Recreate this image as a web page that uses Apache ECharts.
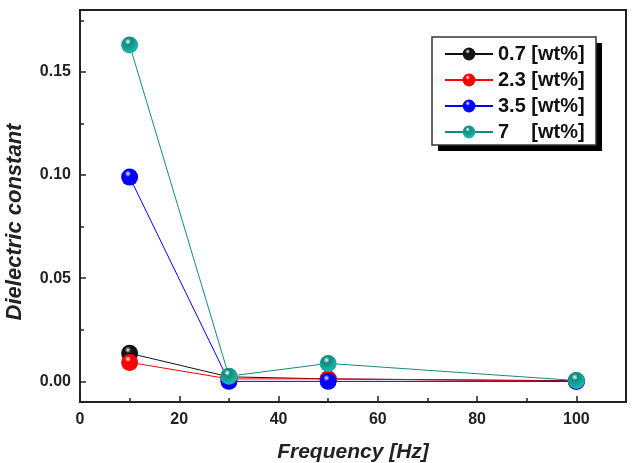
<!DOCTYPE html>
<html>
<head>
<meta charset="utf-8">
<script src="https://cdn.jsdelivr.net/npm/echarts@6/dist/echarts.min.js"></script>
<style>
  html, body { margin: 0; padding: 0; background: #fff; }
  #chart { width: 632px; height: 463px; }
</style>
</head>
<body>
<div id="chart"></div>
<script>
var freq = [10, 30, 50, 100];
var s07 = [0.0136, 0.0022, 0.0012, 0.0003];
var s23 = [0.0092, 0.0012, 0.0012, 0.0001];
var s35 = [0.099, 0.0, 0.0, 0.0];
var s70 = [0.163, 0.0025, 0.0087, 0.0004];
var names = ["0.7 [wt%]", "2.3 [wt%]", "3.5 [wt%]", "7    [wt%]"];
var colors = ["#111111", "#ff0000", "#0000ff", "#138a80"];
var xLabels = [0, 20, 40, 60, 80, 100];
var xMinor = [10, 30, 50, 70, 90];
var yLabels = [0, 0.05, 0.1, 0.15];
var yMinor = [0.025, 0.075, 0.125, 0.175];

var font = "Arial, 'Liberation Sans', sans-serif";

function pairs(ys) {
  return freq.map(function (x, i) { return [x, ys[i]]; });
}

// shiny ball look
function ball(c) {
  return {
    type: "radial", x: 0.4, y: 0.3, r: 0.75,
    colorStops: [
      { offset: 0, color: "#ffffff" },
      { offset: 0.25, color: c },
      { offset: 1, color: echarts.color.lift(c, -0.4) }
    ]
  };
}

var myChart = echarts.init(document.getElementById("chart"));
var allData = [s07, s23, s35, s70];

var option = {
  animation: false,
  grid: {
    left: 80, top: 10, right: 6, bottom: 61,
    outerBoundsMode: "none",
    show: true, borderColor: "#222", borderWidth: 2
  },
  graphic: [
    // legend frame with hard shadow
    { type: "rect", z: 1, shape: { x: 438, y: 43, width: 164, height: 108 }, style: { fill: "#000" } },
    { type: "rect", z: 2, shape: { x: 432, y: 37, width: 164, height: 108 }, style: { fill: "#fff", stroke: "#333", lineWidth: 1.5 } },
    {
      type: "text", z: 3, x: 15, y: 222, rotation: Math.PI / 2,
      style: {
        text: "Dielectric constant", fill: "#222",
        font: "italic bold 22px Arial, 'Liberation Sans', sans-serif",
        align: "center", verticalAlign: "middle"
      }
    }
  ],
  legend: {
    orient: "vertical",
    left: 444, top: 44,
    padding: 0,
    z: 10,
    itemWidth: 48, itemHeight: 16, itemGap: 6,
    textStyle: { fontFamily: font, fontWeight: "bold", fontSize: 20, lineHeight: 20, color: "#111" },
    data: names
  },
  xAxis: [
    {
      type: "value", min: 0, max: 110,
      name: "Frequency [Hz]", nameLocation: "middle", nameGap: 40,
      nameTextStyle: { fontFamily: font, fontWeight: "bold", fontStyle: "italic", fontSize: 21, color: "#222" },
      axisLine: { onZero: false, lineStyle: { color: "#222", width: 2 } },
      axisTick: { inside: true, length: 6, customValues: xLabels, lineStyle: { color: "#222", width: 1.5 } },
      axisLabel: { customValues: xLabels, fontFamily: font, fontWeight: "bold", fontSize: 16, color: "#222", margin: 10 },
      splitLine: { show: false }
    },
    {
      type: "value", min: 0, max: 110, position: "bottom",
      axisLine: { show: false, onZero: false },
      axisTick: { inside: true, length: 4, customValues: xMinor, lineStyle: { color: "#222", width: 1.5 } },
      axisLabel: { show: false },
      splitLine: { show: false }
    }
  ],
  yAxis: [
    {
      type: "value", min: -0.01, max: 0.18,
      axisLine: { show: true, onZero: false, lineStyle: { color: "#222", width: 2 } },
      axisTick: { show: true, inside: true, length: 6, customValues: yLabels, lineStyle: { color: "#222", width: 1.5 } },
      axisLabel: {
        customValues: yLabels, fontFamily: font, fontWeight: "bold", fontSize: 16, color: "#222", margin: 9,
        formatter: function (v) { return v.toFixed(2); }
      },
      splitLine: { show: false }
    },
    {
      type: "value", min: -0.01, max: 0.18, position: "left",
      axisLine: { show: false, onZero: false },
      axisTick: { show: true, inside: true, length: 4, customValues: yMinor, lineStyle: { color: "#222", width: 1.5 } },
      axisLabel: { show: false },
      splitLine: { show: false }
    }
  ],
  series: names.map(function (n, i) {
    return {
      name: n,
      type: "line",
      xAxisIndex: 0, yAxisIndex: 0,
      data: pairs(allData[i]),
      symbol: "circle",
      symbolSize: 17,
      color: colors[i],
      lineStyle: { color: colors[i], width: 1 },
      itemStyle: { color: ball(colors[i]) },
      z: 2 + i
    };
  })
};

myChart.setOption(option);
</script>
</body>
</html>
